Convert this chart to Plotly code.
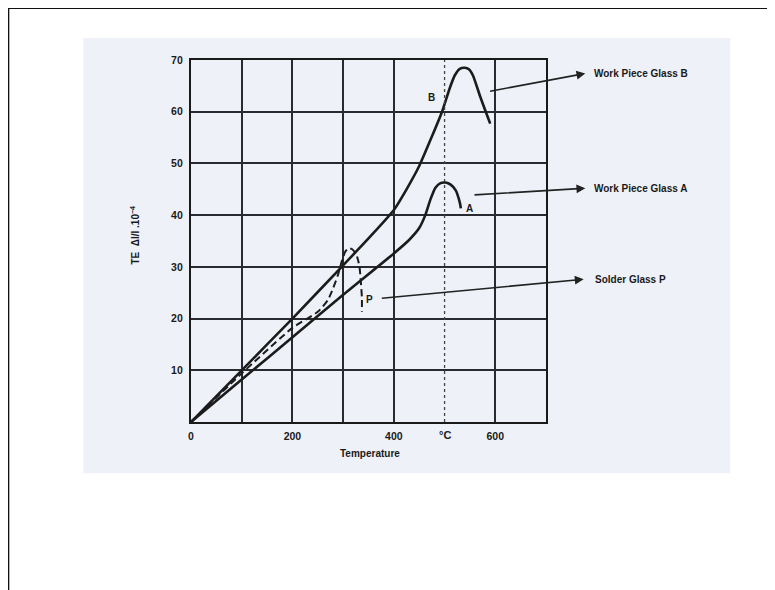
import plotly.graph_objects as go

# ---- data ----
temp_B = [0, 100, 200, 300, 350, 400, 425, 450, 475, 495, 510, 520, 530, 540, 548, 556, 570, 590]
te_B = [0, 10, 20, 30.3, 35.5, 41, 45, 49.5, 55.2, 60, 64.5, 67, 68.3, 68.5, 68.2, 67, 63, 57.7]

temp_A = [0, 100, 200, 300, 400, 430, 450, 462, 472, 482, 492, 502, 512, 522, 528, 531, 532]
te_A = [0, 8.2, 16.4, 24.6, 32.6, 35.2, 37.5, 40, 43, 45.3, 46.2, 46.3, 45.9, 44.8, 43.2, 42, 41.3]

temp_P = [0, 100, 200, 250, 270, 280, 290, 298, 304, 310, 318, 326, 332, 335, 337, 337]
te_P = [0, 9.4, 18.2, 21.3, 23.6, 25.8, 28.5, 31.3, 32.9, 33.6, 33.4, 32.4, 30.2, 27, 24, 21.3]

x_grid = [0, 100, 200, 300, 400, 600, 700]
x_text = ["0", "", "200", "", "400", "600", ""]
y_grid = [0, 10, 20, 30, 40, 50, 60, 70]
y_text = ["", "10", "20", "30", "40", "50", "60", "70"]

labels = ["Work Piece Glass B", "Work Piece Glass A", "Solder Glass P"]

INK = "#1c1c1c"
BG = "#eef1f8"
FONT = "Liberation Sans, Arial, sans-serif"

fig = go.Figure()
fig.add_trace(go.Scatter(x=temp_B, y=te_B, mode="lines",
                         line=dict(color=INK, width=2.6, shape="spline", smoothing=0.6),
                         hoverinfo="skip", showlegend=False))
fig.add_trace(go.Scatter(x=temp_A, y=te_A, mode="lines",
                         line=dict(color=INK, width=2.6, shape="spline", smoothing=0.6),
                         hoverinfo="skip", showlegend=False))
fig.add_trace(go.Scatter(x=temp_P, y=te_P, mode="lines",
                         line=dict(color=INK, width=2, shape="spline", smoothing=0.5, dash="7px,4px"),
                         hoverinfo="skip", showlegend=False))

shapes = [
    # scanned page background
    dict(type="rect", xref="paper", yref="paper", x0=-0.3034, x1=1.5192, y0=-0.1418, y1=1.0608,
         fillcolor=BG, line=dict(width=0), layer="below"),
    # outer page border
    dict(type="path", xref="paper", yref="paper",
         path="M -0.5146,-0.47 L -0.5146,1.1438 L 1.66,1.1438",
         line=dict(color="#111111", width=2)),
    # dotted line at 500
    dict(type="line", xref="x", yref="y", x0=500, x1=500, y0=0, y1=70,
         line=dict(color="#444444", width=1.3, dash="dot")),
]

ann_font = dict(family=FONT, size=10, color="#1a1a1a", weight="bold")
annotations = [
    dict(x=500, y=-0.0368, xref="x", yref="paper", text="°C", showarrow=False,
         xanchor="center", yanchor="middle",
         font=dict(family=FONT, size=11, color="#1a1a1a", weight="bold")),
    dict(x=353.6, y=-0.0857, xref="x", yref="paper", text="Temperature", showarrow=False,
         xanchor="center", yanchor="middle",
         font=dict(family=FONT, size=10, color="#1a1a1a", weight="bold")),
    dict(x=-0.157, y=36.1, xref="paper", yref="y", text="TE  Δl/l .10<sup>−4</sup>",
         textangle=-90, showarrow=False, xanchor="center", yanchor="middle",
         font=dict(family=FONT, size=10, color="#1a1a1a", weight="bold")),
    dict(x=475, y=62.8, xref="x", yref="y", text="B", showarrow=False, font=ann_font),
    dict(x=549, y=41.3, xref="x", yref="y", text="A", showarrow=False, font=ann_font),
    dict(x=352, y=23.6, xref="x", yref="y", text="P", showarrow=False, font=ann_font),
]

arrows = [
    (586.8, 63.9, 777.5, 67.4),
    (556.1, 43.9, 777.5, 45.2),
    (373.3, 23.9, 774.2, 27.6),
]
text_x = [1.1296, 1.1296, 1.1333]
for (tx, ty, hx, hy), lab, lx in zip(arrows, labels, text_x):
    annotations.append(dict(x=hx, y=hy, ax=tx, ay=ty, xref="x", yref="y", axref="x", ayref="y",
                            text="", showarrow=True, arrowhead=2, arrowsize=1.1, arrowwidth=1.6,
                            arrowcolor="#222222", standoff=0, startstandoff=0))
    annotations.append(dict(x=lx, y=hy, xref="paper", yref="y", text=lab, showarrow=False,
                            xanchor="left", yanchor="middle", font=ann_font))

fig.update_layout(
    width=767, height=582,
    margin=dict(l=182.7, r=229.3, t=52, b=168.3),
    paper_bgcolor="white", plot_bgcolor=BG,
    shapes=shapes, annotations=annotations,
    font=dict(family=FONT, color="#1a1a1a"),
)
fig.update_xaxes(range=[0, 700], tickmode="array", tickvals=x_grid, ticktext=x_text,
                 showgrid=True, gridcolor="#2a2a33", gridwidth=1.6, zeroline=False,
                 showline=True, linecolor="#1a1a1a", linewidth=2.2, mirror=True,
                 ticks="", ticklabelstandoff=3,
                 tickfont=dict(family=FONT, size=10.5, color="#1a1a1a", weight="bold"))
fig.update_yaxes(range=[0, 70], tickmode="array", tickvals=y_grid, ticktext=y_text,
                 showgrid=True, gridcolor="#2a2a33", gridwidth=1.6, zeroline=False,
                 showline=True, linecolor="#1a1a1a", linewidth=2.2, mirror=True,
                 ticks="", ticklabelstandoff=4,
                 tickfont=dict(family=FONT, size=10.5, color="#1a1a1a", weight="bold"))

fig.write_html("out.html")
